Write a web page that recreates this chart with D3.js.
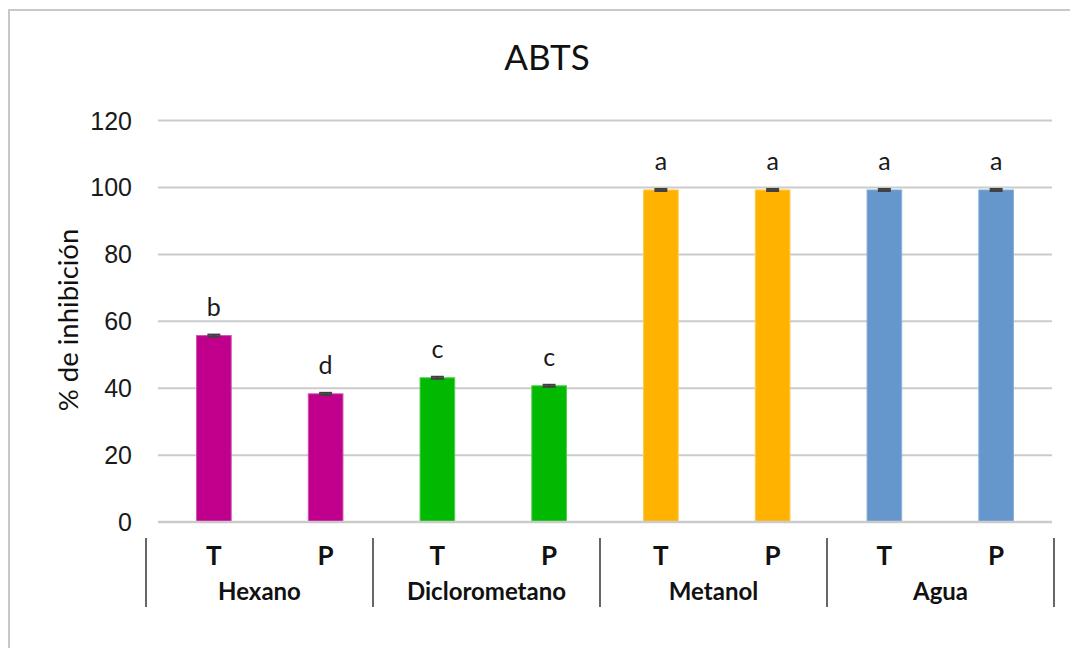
<!DOCTYPE html>
<html>
<head>
<meta charset="utf-8">
<script src="https://cdn.jsdelivr.net/npm/d3@7"></script>
<style>
  html, body { margin: 0; padding: 0; background: #fff; }
  svg { display: block; font-family: Lato, "Open Sans", sans-serif; }
</style>
</head>
<body>
<svg id="chart" width="1070" height="648"></svg>
<script>
// ABTS radical-scavenging activity by extract solvent and sample (T / P)
const samples   = ["T", "P", "T", "P", "T", "P", "T", "P"];
const solvents  = ["Hexano", "Diclorometano", "Metanol", "Agua"];
const solventOf = [0, 0, 1, 1, 2, 2, 3, 3];
const inhibition = [55.6, 38.2, 43.0, 40.6, 99.1, 99.1, 99.1, 99.1];
const stdErr     = [0.3, 0.3, 0.3, 0.3, 0.3, 0.3, 0.3, 0.3];
const letters    = ["b", "d", "c", "c", "a", "a", "a", "a"];
const solventColors = ["#c0008c", "#00b900", "#ffb300", "#6596cc"];
const solventEdges  = ["#cf4fae", "#4fcf4f", "#ffc94f", "#89afd9"];
const yTicks = [0, 20, 40, 60, 80, 100, 120];

const svg = d3.select("#chart");

// outer frame
svg.append("rect")
  .attr("x", 9).attr("y", 10)
  .attr("width", 1100).attr("height", 700)
  .attr("fill", "none").attr("stroke", "#c8c8c8").attr("stroke-width", 2);

const plot = { left: 158, right: 1052, top: 120, bottom: 521.7 };

const x = d3.scaleBand()
  .domain(d3.range(samples.length))
  .range([plot.left, plot.right])
  .paddingInner(0.69)
  .paddingOuter(0.345);

const y = d3.scaleLinear()
  .domain([0, 120])
  .range([plot.bottom, plot.top]);

// horizontal gridlines and y tick labels
const yAxis = d3.axisLeft(y)
  .tickValues(yTicks)
  .tickSize(-(plot.right - plot.left))
  .tickPadding(26)
  .tickFormat(d3.format("d"));

const gy = svg.append("g")
  .attr("transform", `translate(${plot.left},0)`)
  .call(yAxis);
gy.select(".domain").remove();
gy.selectAll(".tick line").attr("stroke", "#cbcbcb").attr("stroke-width", 2);
gy.selectAll(".tick text")
  .attr("fill", "#1a1a1a")
  .style("font-size", "25px")
  .attr("dy", "0.36em");

// bars
svg.append("g").selectAll("rect")
  .data(inhibition)
  .join("rect")
  .attr("x", (d, i) => x(i))
  .attr("y", d => y(d))
  .attr("width", x.bandwidth())
  .attr("height", d => y(0) - y(d))
  .attr("fill", (d, i) => solventColors[solventOf[i]])
  .attr("stroke", (d, i) => solventEdges[solventOf[i]])
  .attr("stroke-width", 1);

// error bars
const capHalf = 6.5;
const eb = svg.append("g").attr("stroke", "#404040").attr("stroke-width", 2);
inhibition.forEach((v, i) => {
  const cx = x(i) + x.bandwidth() / 2;
  const e = stdErr[i];
  eb.append("line").attr("x1", cx).attr("x2", cx).attr("y1", y(v - e)).attr("y2", y(v + e));
  eb.append("line").attr("x1", cx - capHalf).attr("x2", cx + capHalf).attr("y1", y(v + e)).attr("y2", y(v + e));
  eb.append("line").attr("x1", cx - capHalf).attr("x2", cx + capHalf).attr("y1", y(v - e)).attr("y2", y(v - e));
});

// significance letters
svg.append("g").selectAll("text")
  .data(letters)
  .join("text")
  .attr("x", (d, i) => x(i) + x.bandwidth() / 2)
  .attr("y", (d, i) => y(inhibition[i]) - 20)
  .attr("text-anchor", "middle")
  .attr("fill", "#1a1a1a")
  .style("font-size", "25px")
  .text(d => d);

// category axis line
svg.append("line")
  .attr("x1", plot.left).attr("x2", plot.right)
  .attr("y1", y(0)).attr("y2", y(0))
  .attr("stroke", "#cbcbcb").attr("stroke-width", 2);

// first-level labels (T / P)
svg.append("g").selectAll("text")
  .data(samples)
  .join("text")
  .attr("x", (d, i) => x(i) + x.bandwidth() / 2)
  .attr("y", 565)
  .attr("text-anchor", "middle")
  .attr("fill", "#111")
  .style("font-size", "26px")
  .style("font-weight", "bold")
  .text(d => d);

// second-level labels (solvent) with separators
const g = d3.scaleBand()
  .domain(d3.range(solvents.length))
  .range([146, 1054]);

svg.append("g").selectAll("line")
  .data(d3.range(solvents.length + 1))
  .join("line")
  .attr("x1", i => i < solvents.length ? g(i) : g(i - 1) + g.bandwidth())
  .attr("x2", i => i < solvents.length ? g(i) : g(i - 1) + g.bandwidth())
  .attr("y1", 538).attr("y2", 607)
  .attr("stroke", "#404040").attr("stroke-width", 1.6);

svg.append("g").selectAll("text")
  .data(solvents)
  .join("text")
  .attr("x", (d, i) => g(i) + g.bandwidth() / 2)
  .attr("y", 600)
  .attr("text-anchor", "middle")
  .attr("fill", "#111")
  .style("font-size", "24px")
  .style("font-weight", "bold")
  .text(d => d);

// title
svg.append("text")
  .attr("x", 547).attr("y", 70)
  .attr("text-anchor", "middle")
  .attr("fill", "#111")
  .style("font-size", "35px")
  .text("ABTS");

// y-axis title
svg.append("text")
  .attr("transform", "translate(78,320) rotate(-90)")
  .attr("text-anchor", "middle")
  .attr("fill", "#111")
  .style("font-size", "27.5px")
  .text("% de inhibición");
</script>
</body>
</html>
